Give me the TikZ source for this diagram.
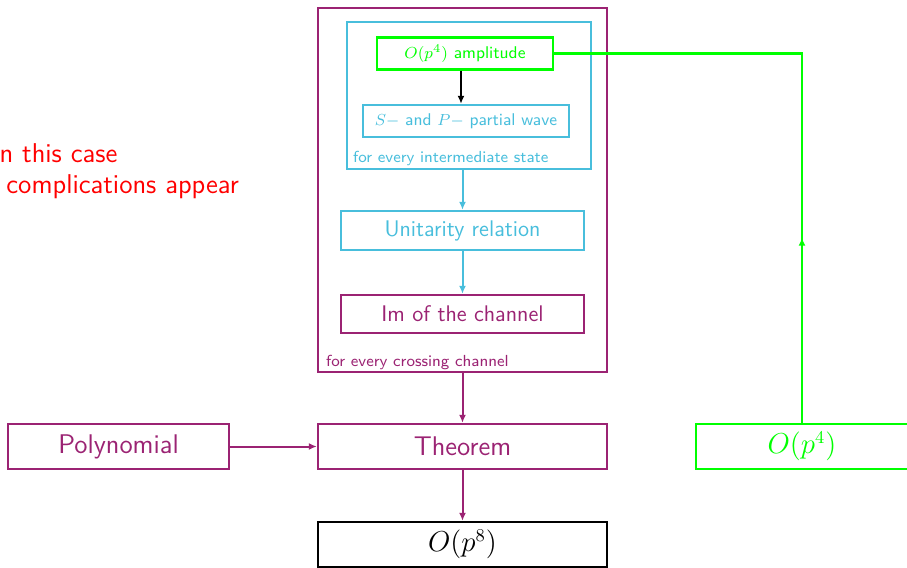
\documentclass[tikz,border=0pt]{standalone}
\usetikzlibrary{arrows.meta, positioning, decorations.markings}

\definecolor{chanpurple}{RGB}{155,35,115}
\definecolor{statecyan}{RGB}{72,190,220}
\definecolor{ampgreen}{RGB}{0,255,0}

\begin{document}
\begin{tikzpicture}[
    x=0.5pt, y=-0.5pt,
    font=\sffamily,
    box/.style={draw, line width=1.2pt, inner sep=0pt, align=center},
    bigbox/.style={box, minimum width=144.5pt, minimum height=22.5pt,
                   font=\sffamily\fontsize{13.5}{15.5}\selectfont},
    midbox/.style={box, minimum width=121.5pt, minimum height=19.5pt,
                   font=\sffamily\fontsize{11.3}{13}\selectfont},
    smallbox/.style={box, minimum height=16pt, font=\sffamily\fontsize{8.5}{10}\selectfont},
    note/.style={font=\sffamily\fontsize{8}{10}\selectfont, inner sep=0pt, anchor=south west},
    arr/.style={-{Latex[length=4pt, width=3.5pt]}, line width=1pt},
]
    \useasboundingbox (0,0) rectangle (907,568);

    %==================== crossing channel loop ====================
    \node[box, draw=chanpurple, minimum width=144.5pt, minimum height=182pt] (crossing) at (462.5,190) {};
    \node[note, text=chanpurple] at ([xshift=4.5pt, yshift=1.5pt]crossing.south west)
        {for every crossing channel};

    %==================== intermediate state loop ====================
    \node[box, draw=statecyan, minimum width=122pt, minimum height=73.5pt] (intermediate) at (469,95.5) {};
    \node[note, text=statecyan] at ([xshift=3.5pt, yshift=2pt]intermediate.south west)
        {for every intermediate state};

    \node[smallbox, draw=ampgreen, text=ampgreen, minimum width=88pt] (amp) at (465,53.5)
        {$O(p^4)$ amplitude};
    \node[smallbox, draw=statecyan, text=statecyan, minimum width=103pt] (wave) at (466,121)
        {$S-$ and $P-$ partial wave};
    \draw[arr] ([xshift=-2pt]amp.south) -- ([xshift=-2pt]amp.south |- wave.north);

    %==================== unitarity ====================
    \node[midbox, draw=statecyan, text=statecyan] (unitarity) at (462.5,230.5) {Unitarity relation};
    \node[midbox, draw=chanpurple, text=chanpurple, minimum height=19pt] (imag) at (462.5,314)
        {Im of the channel};
    \draw[arr, statecyan] (unitarity.north |- intermediate.south) -- (unitarity.north);
    \draw[arr, statecyan] (unitarity) -- (imag);

    %==================== theorem ====================
    \node[bigbox, draw=chanpurple, text=chanpurple] (theorem) at (462.5,446.5) {Theorem};
    \node[bigbox, draw=chanpurple, text=chanpurple, minimum width=110.5pt] (poly) at (118.5,446.5)
        {Polynomial};
    \node[bigbox] (result) at (462.5,544.5) {$O(p^8)$};
    \node[bigbox, draw=ampgreen, text=ampgreen, minimum width=106pt] (tree) at (802,446.5) {$O(p^4)$};

    \draw[arr, chanpurple] (crossing) -- (theorem);
    \draw[arr, chanpurple] (poly) -- (theorem);
    \draw[arr, chanpurple] (theorem) -- (result);
    \draw[line width=1.2pt, ampgreen, postaction={decorate},
          decoration={markings, mark=at position 0.3 with {\arrow{Latex[length=4pt, width=3.5pt]}}}]
        (tree.north) |- (amp.east);

    %==================== remark ====================
    \node[font=\sffamily\fontsize{13.6}{15.5}\selectfont, text=red, align=left, anchor=west,
          inner sep=0pt] (remark) at (-8,171)
        {In this case\\\hspace*{7pt}complications appear};

\end{tikzpicture}
\end{document}
